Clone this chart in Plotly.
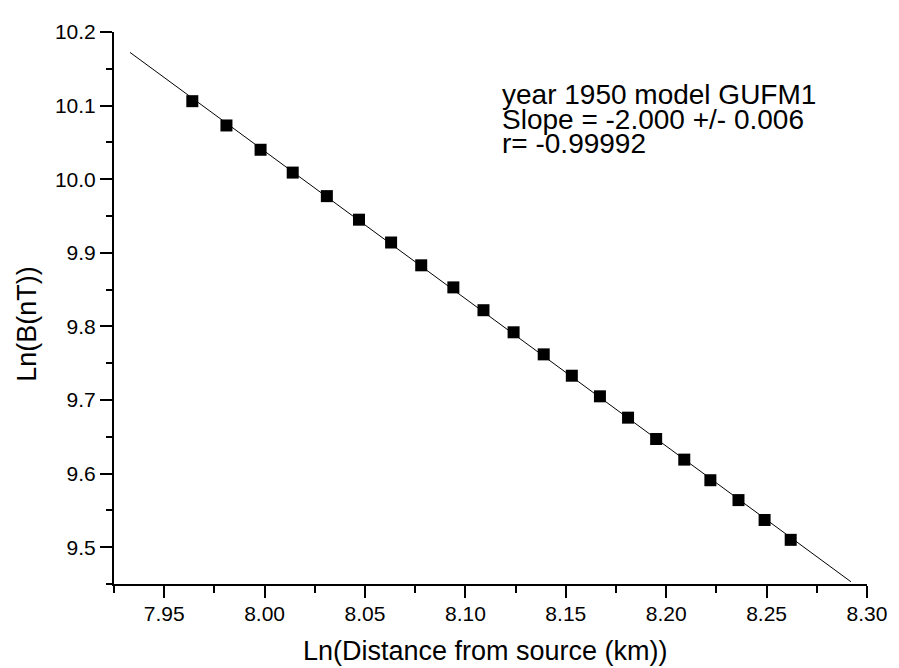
import numpy as np
import plotly.graph_objects as go

# Data
ln_distance = [7.964, 7.981, 7.998, 8.014, 8.031, 8.047, 8.063, 8.078, 8.094, 8.109,
               8.124, 8.139, 8.153, 8.167, 8.181, 8.195, 8.209, 8.222, 8.236, 8.249, 8.262]
ln_b = [10.106, 10.073, 10.040, 10.009, 9.977, 9.945, 9.914, 9.883, 9.853, 9.822,
        9.792, 9.762, 9.733, 9.705, 9.676, 9.647, 9.619, 9.591, 9.564, 9.537, 9.510]
fit_x_range = [7.933, 8.292]
info_lines = ["year 1950 model GUFM1", "Slope = -2.000 +/- 0.006", "r= -0.99992"]
x_title = "Ln(Distance from source (km))"
y_title = "Ln(B(nT))"

slope, intercept = np.polyfit(ln_distance, ln_b, 1)
fit_x = np.array(fit_x_range)
fit_y = slope * fit_x + intercept

FONT = "Liberation Sans, Arial, sans-serif"

fig = go.Figure()
fig.add_trace(go.Scatter(x=fit_x, y=fit_y, mode="lines",
                         line=dict(color="black", width=1), showlegend=False))
fig.add_trace(go.Scatter(x=ln_distance, y=ln_b, mode="markers",
                         marker=dict(symbol="square", size=12, color="black"),
                         showlegend=False))

axis_common = dict(showgrid=False, zeroline=False, showline=True, linecolor="black",
                   linewidth=2, ticks="outside", ticklen=12, tickwidth=2, tickcolor="black",
                   tickfont=dict(family=FONT, size=21, color="black"))

fig.update_xaxes(range=[7.925, 8.30], tick0=7.95, dtick=0.05, tickformat=".2f",
                 ticklabelstandoff=-2,
                 minor=dict(ticks="outside", ticklen=7, tickwidth=2, tickcolor="black",
                            dtick=0.025, tick0=7.925),
                 **axis_common)
fig.update_yaxes(range=[9.45, 10.2], tick0=9.5, dtick=0.1, tickformat=".1f",
                 minor=dict(ticks="outside", ticklen=6, tickwidth=2, tickcolor="black",
                            dtick=0.05, tick0=9.45),
                 **axis_common)

for i, txt in enumerate(info_lines):
    fig.add_annotation(text=txt, xref="paper", yref="paper", x=0.512,
                       y=0.887 - i * 0.0448, xanchor="left", yanchor="middle",
                       showarrow=False, font=dict(family=FONT, size=28, color="black"))

fig.add_annotation(text=x_title, xref="paper", yref="paper", x=0.493, y=-0.121,
                   xanchor="center", yanchor="middle", showarrow=False,
                   font=dict(family=FONT, size=27, color="black"))
fig.add_annotation(text=y_title, xref="paper", yref="paper", x=-0.115, y=0.472,
                   xanchor="center", yanchor="middle", textangle=-90, showarrow=False,
                   font=dict(family=FONT, size=27, color="black"))

# page body has an 8px margin, so the figure is offset by (8, 8)
fig.update_layout(width=891, height=660, margin=dict(l=106, r=23, t=16, b=84),
                  plot_bgcolor="white", paper_bgcolor="white")

fig.write_html("out.html")
